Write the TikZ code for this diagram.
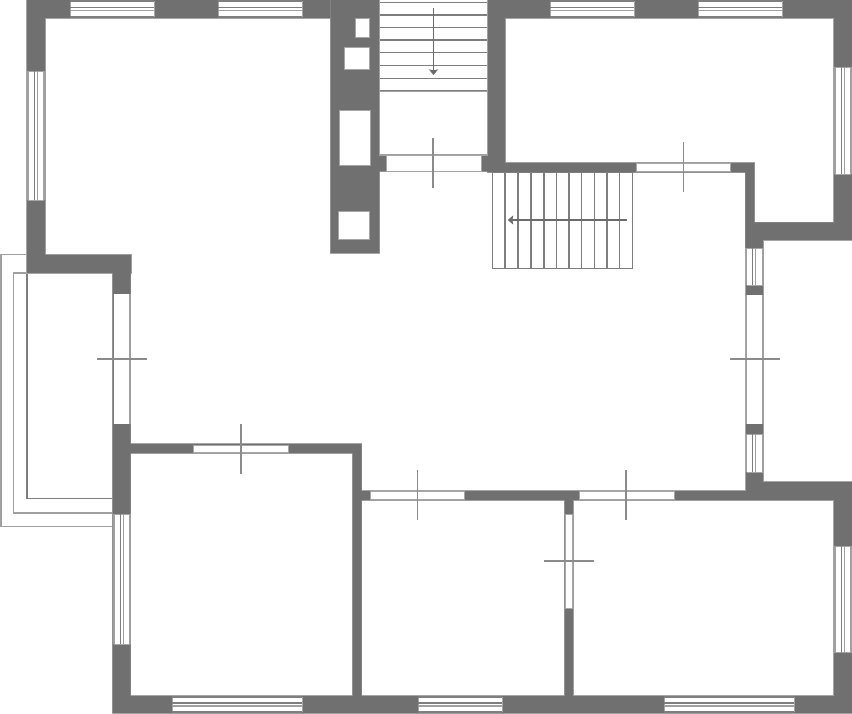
\documentclass[tikz,border=0pt]{standalone}
\usetikzlibrary{arrows.meta}
\definecolor{wallc}{HTML}{707070}
\definecolor{edgec}{HTML}{A6A6A6}
\definecolor{linec}{HTML}{7E7E7E}
\definecolor{lightc}{HTML}{A0A0A0}
\tikzset{
  wallfill/.style={fill=wallc,draw=none},
  walledge/.style={draw=edgec,line width=1.4pt},
  hole/.style={fill=white,draw=edgec,line width=0.9pt},
  opening/.style={fill=white,draw=none},
  glass/.style={draw=linec,line width=1.2pt},
  glasslight/.style={draw=lightc,line width=1.2pt},
  endline/.style={draw=edgec,line width=0.8pt},
  tick/.style={draw=linec!90!white,line width=1.2pt},
  tread/.style={draw=linec,line width=1.25pt},
  outline/.style={draw=lightc,line width=1.25pt},
  walkarrow/.style={draw=linec!85!black,line width=1.1pt,-{Triangle[width=9pt,length=5.5pt,inset=0.8pt]}}
}
\newcommand{\wallshape}{
  (27,0) rectangle (330,18)
  (330.5,0) rectangle (379.3,253)
  (487.3,0) rectangle (852,18)
  (27,0) rectangle (45,273)
  (27,255) rectangle (131,273)
  (112.5,255) rectangle (130.5,713)
  (113,696) rectangle (852,713)
  (130,444) rectangle (361.7,453)
  (352.7,444) rectangle (361.7,696)
  (352.7,491) rectangle (852,500)
  (564.5,491) rectangle (573,696)
  (834,482) rectangle (852,713)
  (746,482) rectangle (852,500)
  (746,222.5) rectangle (763,491)
  (745.3,163) rectangle (754.3,248)
  (745.3,222.5) rectangle (852,240)
  (834,0) rectangle (852,240)
  (487.3,0) rectangle (505,172.5)
  (487.3,163) rectangle (754.3,172.5)
  (379,155) rectangle (505,171.5)
}
% horizontal window: x1, x2, y1, y2, c1, c2
\newcommand{\hwin}[6]{%
  \fill[opening] (#1,#3) rectangle (#2,#4);
  \draw[endline] (#1,#3) -- (#1,#4) (#2,#3) -- (#2,#4);
  \draw[glass] (#1,#3) -- (#2,#3) (#1,#4) -- (#2,#4) (#1,#5) -- (#2,#5);
  \draw[glasslight] (#1,#6) -- (#2,#6);
}
% vertical window: y1, y2, x1, x2, c1, c2
\newcommand{\vwin}[6]{%
  \fill[opening] (#3,#1) rectangle (#4,#2);
  \draw[endline] (#3,#1) -- (#4,#1) (#3,#2) -- (#4,#2);
  \draw[glasslight] (#3,#1) -- (#3,#2) (#4,#1) -- (#4,#2) (#6,#1) -- (#6,#2);
  \draw[glass] (#5,#1) -- (#5,#2);
}
\begin{document}
\begin{tikzpicture}[x=1pt,y=-1pt]
\useasboundingbox (0,0) rectangle (852,714);
\fill[white] (0,0) rectangle (852,714);
% balcony
\draw[outline] (27,254.5) -- (1,254.5) -- (1,526.7) -- (112.5,526.7);
\draw[outline] (27,273) -- (13.5,273) -- (13.5,513) -- (112.5,513);
\draw[glass] (27,273) -- (27,498.3) -- (112.5,498.3);
% walls
\draw[walledge] \wallshape;
\fill[wallfill] \wallshape;
% stair well
\fill[opening] (379.3,0) rectangle (487.3,155);
\draw[outline] (379.3,0) -- (379.3,155) -- (487.3,155) -- (487.3,0);
\draw[outline] (379.3,91.8) -- (487.3,91.8);
\foreach \yy in {2.3,15,27.7,40,52.7,65.7,78.3,90.5}{
  \draw[tread] (380,\yy) -- (486.5,\yy);
}
\draw[walkarrow] (433.5,8) -- (433.5,75);
% flues
\foreach \xa/\ya/\xb/\yb in {355/18/369/37.5,344/47/369/69,339/110.3/370.7/165.3,338/211/369/239.7}{
  \draw[hole] (\xa,\ya) rectangle (\xb,\yb);
}
% top and bottom windows
\foreach \xa/\xb in {70/154,218/302,550/634,698/782}{
  \hwin{\xa}{\xb}{1}{17}{7.5}{10.5}
}
\foreach \xa/\xb in {172/302,418/502,664/794}{
  \hwin{\xa}{\xb}{697}{712}{703}{706}
}
% side windows
\vwin{71}{200.5}{28}{44}{34.4}{37.4}
\vwin{514}{644}{114}{130}{120.7}{123.7}
\vwin{67}{174}{835}{851}{841.4}{844.4}
\vwin{546}{652.5}{835}{851}{841.2}{844.2}
\vwin{248}{285}{746.5}{762.5}{752.7}{755.7}
\vwin{434}{472}{746.5}{762.5}{752.7}{755.7}
% single pane doors, horizontal
\foreach \xa/\xb/\ya/\yb in {386/481/155.5/171,636/730.5/163.7/171,193/288/445/452,370/464.7/491.7/499,579/674/491.7/499}{
  \fill[opening] (\xa,\ya) rectangle (\xb,\yb);
  \draw[endline] (\xa,\ya) rectangle (\xb,\yb);
}
% single pane doors, vertical
\fill[opening] (113.5,294) rectangle (130,424);
\draw[glass] (113.3,294) -- (113.3,424);
\draw[glasslight] (130,294) -- (130,424);
\fill[opening] (746.5,295) rectangle (762.5,424);
\draw[glasslight] (746.5,295) -- (746.5,424) (762.5,295) -- (762.5,424);
\fill[opening] (565,514) rectangle (572.3,608.7);
\draw[endline] (565,514) rectangle (572.3,608.7);
% door ticks
\draw[tick] (433,138) -- (433,188);
\draw[tick] (683.3,142.3) -- (683.3,192.3);
\draw[tick] (241,424) -- (241,474);
\draw[tick] (417.3,470) -- (417.3,520);
\draw[tick] (626,470) -- (626,520);
\draw[tick] (543.5,561) -- (593.7,561);
\draw[tick] (97,359) -- (147,359);
\draw[tick] (730,359) -- (780,359);
% second stair
\draw[tread] (492.3,172.5) rectangle (632.3,268.3);
\foreach \xx in {505,518,531,544,556.5,569,581.7,594.3,607,619.7}{
  \draw[tread] (\xx,172.5) -- (\xx,268.3);
}
\draw[walkarrow] (626.7,220) -- (507.7,220);
\end{tikzpicture}
\end{document}
